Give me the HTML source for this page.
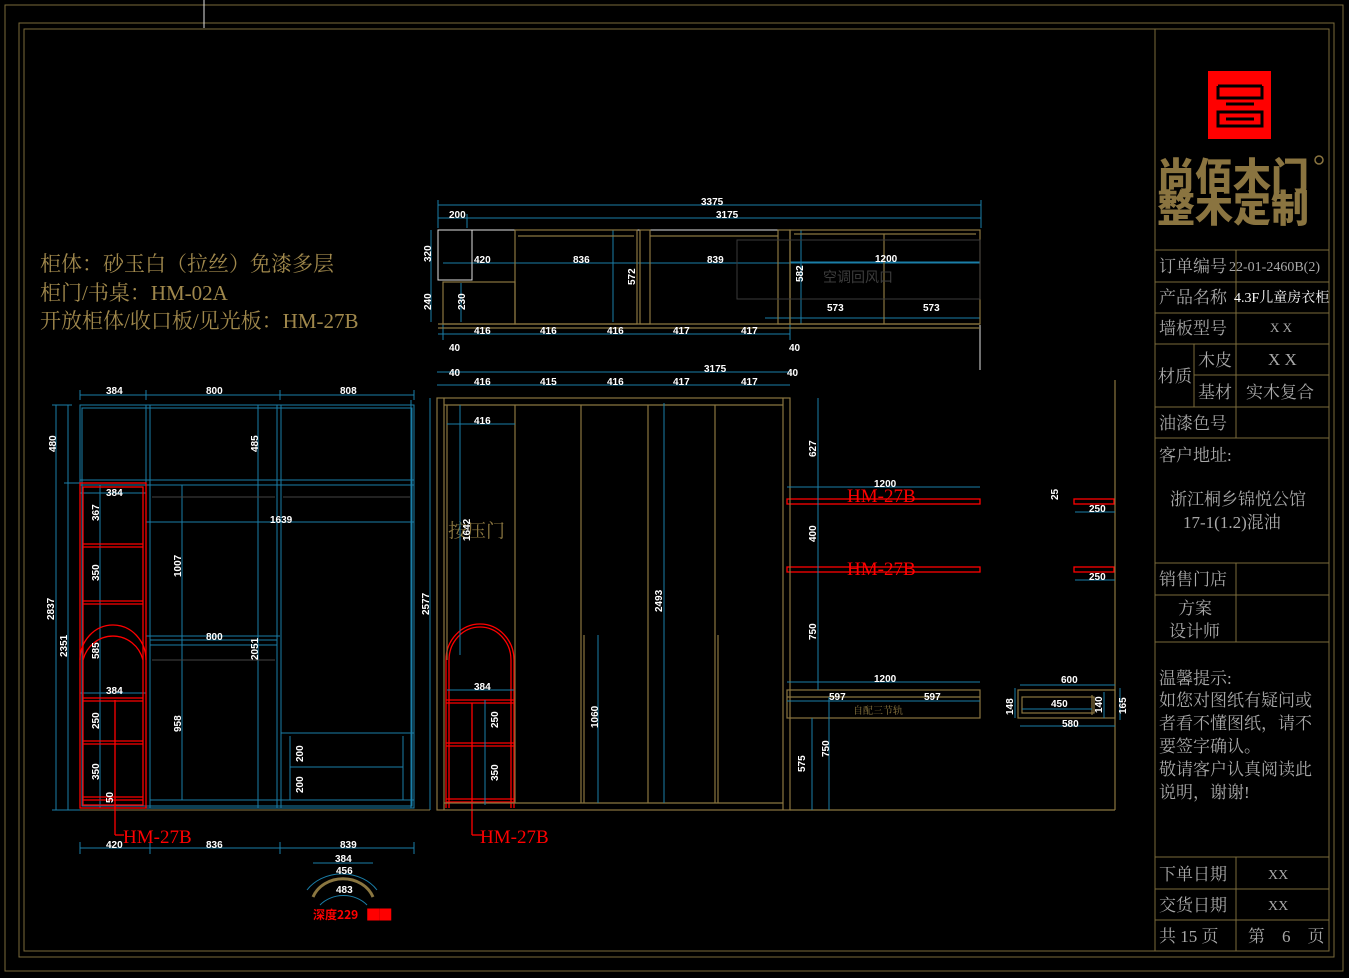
<!DOCTYPE html>
<html><head><meta charset="utf-8"><style>
html,body{margin:0;padding:0;background:#000;}
svg{display:block}
.g{stroke:#8a7640;fill:none;stroke-width:1.2}
.c{stroke:#1a7ea8;fill:none;stroke-width:1}
.r{stroke:#ff0000;fill:none;stroke-width:1.3}
.w{stroke:#e0e0e0;fill:none;stroke-width:1}
.f{stroke:#7a6a3a;fill:none;stroke-width:1}
.d{fill:#fff;font-family:"Liberation Sans Narrow","Liberation Sans",sans-serif;font-size:10px;font-weight:bold}
.t{fill:#a8a8a8;font-family:"Liberation Serif","Noto Serif CJK SC",serif;font-size:17px}
.y{fill:#a0884c;font-family:"Liberation Serif","Noto Serif CJK SC",serif;font-size:21px}
.hm{fill:#ff0000;font-family:"Liberation Serif","Noto Serif CJK SC",serif;font-size:19px}
</style></head><body>
<svg width="1349" height="978" viewBox="0 0 1349 978" xmlns="http://www.w3.org/2000/svg">
<rect width="1349" height="978" fill="#000"/>
<rect x="5" y="5" width="1338" height="966" class="f"/>
<rect x="19" y="23" width="1315" height="934" class="f"/>
<rect x="24" y="29" width="1305" height="922" class="f"/>
<line x1="204" y1="0" x2="204" y2="28" class="w"/>
<g class="f">
<line x1="1155" y1="29" x2="1155" y2="951"/>
<line x1="1155" y1="250" x2="1329" y2="250"/>
<line x1="1155" y1="282" x2="1329" y2="282"/>
<line x1="1155" y1="313" x2="1329" y2="313"/>
<line x1="1194" y1="344" x2="1329" y2="344"/>
<line x1="1155" y1="344" x2="1194" y2="344"/>
<line x1="1194" y1="375" x2="1329" y2="375"/>
<line x1="1155" y1="407" x2="1329" y2="407"/>
<line x1="1155" y1="438" x2="1329" y2="438"/>
<line x1="1155" y1="563" x2="1329" y2="563"/>
<line x1="1155" y1="595" x2="1329" y2="595"/>
<line x1="1155" y1="642" x2="1329" y2="642"/>
<line x1="1155" y1="857" x2="1329" y2="857"/>
<line x1="1155" y1="889" x2="1329" y2="889"/>
<line x1="1155" y1="920" x2="1329" y2="920"/>
<line x1="1236" y1="250" x2="1236" y2="438"/>
<line x1="1194" y1="344" x2="1194" y2="407"/>
<line x1="1236" y1="563" x2="1236" y2="642"/>
<line x1="1236" y1="857" x2="1236" y2="951"/>
</g>
<rect x="1208" y="71" width="63" height="68" fill="#ff0000"/>
<g stroke="#000" stroke-width="3" fill="none">
<path d="M1218 86 H1262 M1218 86 V98 H1262 V86 M1226 104 H1254 M1218 112 H1262 V126 H1218 Z M1226 119 H1254"/>
</g>
<text x="1157" y="190" style="fill:#8a7440;font-family:'Noto Sans CJK SC',sans-serif;font-size:38px;font-weight:900">尚佰木门</text>
<text x="1157" y="222" style="fill:#8a7440;font-family:'Noto Sans CJK SC',sans-serif;font-size:38px;font-weight:900">整木定制</text>
<circle cx="1319" cy="160" r="4" stroke="#8a7440" fill="none" stroke-width="1.5"/>
<g class="t">
<text x="1159" y="272">订单编号</text><text x="1229" y="271" style="font-size:14px">22-01-2460B(2)</text>
<text x="1159" y="303">产品名称</text><text x="1234" y="302" style="font-size:14px;fill:#fff">4.3F儿童房衣柜</text>
<text x="1159" y="334">墙板型号</text><text x="1270" y="332" style="font-size:13px">X X</text>
<text x="1158" y="382">材质</text>
<text x="1198" y="366">木皮</text><text x="1268" y="365">X X</text>
<text x="1198" y="398">基材</text><text x="1246" y="398">实木复合</text>
<text x="1159" y="429">油漆色号</text>
<text x="1159" y="461">客户地址:</text>
<text x="1170" y="505">浙江桐乡锦悦公馆</text>
<text x="1183" y="528">17-1(1.2)混油</text>
<text x="1159" y="585">销售门店</text>
<text x="1178" y="614">方案</text>
<text x="1169" y="637">设计师</text>
<text x="1159" y="684">温馨提示:</text>
<text x="1159" y="706">如您对图纸有疑问或</text>
<text x="1159" y="729">者看不懂图纸，请不</text>
<text x="1159" y="752">要签字确认。</text>
<text x="1159" y="775">敬请客户认真阅读此</text>
<text x="1159" y="798">说明，谢谢!</text>
<text x="1159" y="880">下单日期</text><text x="1268" y="879" style="font-size:14px">XX</text>
<text x="1159" y="911">交货日期</text><text x="1268" y="910" style="font-size:14px">XX</text>
<text x="1159" y="942">共 15 页</text><text x="1248" y="942">第　6　页</text>
</g>
<g class="y">
<text x="40" y="271">柜体：砂玉白（拉丝）免漆多层</text>
<text x="40" y="300">柜门/书桌：HM-02A</text>
<text x="40" y="328">开放柜体/收口板/见光板：HM-27B</text>
</g>
<g class="c">
<line x1="438" y1="205" x2="981" y2="205"/><line x1="438" y1="218" x2="981" y2="218"/>
<line x1="438" y1="200" x2="438" y2="228"/><line x1="981" y1="200" x2="981" y2="228"/><line x1="467" y1="214" x2="467" y2="228"/>
<line x1="443" y1="263" x2="606" y2="263"/><line x1="606" y1="263" x2="980" y2="263"/>
<line x1="431" y1="230" x2="431" y2="322"/>
<line x1="461" y1="283" x2="461" y2="322"/>
<line x1="613" y1="230" x2="613" y2="322"/>
<line x1="790" y1="262" x2="980" y2="262"/>
<line x1="765" y1="318" x2="980" y2="318"/>
<line x1="801" y1="230" x2="801" y2="324"/>
<line x1="438" y1="334" x2="790" y2="334"/>
<line x1="443" y1="324" x2="443" y2="340"/><line x1="790" y1="324" x2="790" y2="340"/>
<line x1="437" y1="372" x2="790" y2="372"/><line x1="437" y1="385" x2="790" y2="385"/>
</g>
<rect x="438" y="230" width="34" height="50" class="w"/>
<line x1="472" y1="230" x2="980" y2="230" class="w"/>
<line x1="980" y1="325" x2="980" y2="370" class="w"/>
<g class="g">
<rect x="443" y="282" width="72" height="42"/>
<line x1="438" y1="324" x2="980" y2="324"/><line x1="438" y1="328" x2="980" y2="328"/>
<rect x="515" y="230" width="122" height="94"/><line x1="518" y1="236" x2="634" y2="236"/>
<rect x="640" y="230" width="10" height="94"/>
<line x1="650" y1="236" x2="778" y2="236"/>
<rect x="778" y="230" width="12" height="94"/>
<rect x="790" y="230" width="190" height="94"/>
<line x1="794" y1="234" x2="976" y2="234"/>
<line x1="884" y1="234" x2="884" y2="324"/>
</g>
<rect x="737" y="240" width="243" height="59" stroke="#3a3a3a" fill="none"/>
<text x="823" y="282" style="fill:#3c3c3c;font-family:'Noto Sans CJK SC',sans-serif;font-size:14px">空调回风口</text>
<g class="d">
<text x="701" y="205">3375</text><text x="449" y="218">200</text><text x="716" y="218">3175</text>
<text x="474" y="263">420</text><text x="573" y="263">836</text><text x="707" y="263">839</text><text x="875" y="262">1200</text>
<text x="827" y="311">573</text><text x="923" y="311">573</text>
<text x="474" y="334">416</text><text x="540" y="334">416</text><text x="607" y="334">416</text><text x="673" y="334">417</text><text x="741" y="334">417</text>
<text x="449" y="351">40</text><text x="789" y="351">40</text>
<text x="704" y="372">3175</text><text x="449" y="376">40</text><text x="787" y="376">40</text>
<text x="474" y="385">416</text><text x="540" y="385">415</text><text x="607" y="385">416</text><text x="673" y="385">417</text><text x="741" y="385">417</text>
<text transform="translate(431,262) rotate(-90)">320</text>
<text transform="translate(431,310) rotate(-90)">240</text>
<text transform="translate(465,310) rotate(-90)">230</text>
<text transform="translate(635,285) rotate(-90)">572</text>
<text transform="translate(803,282) rotate(-90)">582</text>
</g>
<g class="c">
<line x1="80" y1="395" x2="414" y2="395"/>
<line x1="80" y1="390" x2="80" y2="400"/><line x1="146" y1="390" x2="146" y2="400"/><line x1="280" y1="390" x2="280" y2="400"/><line x1="414" y1="390" x2="414" y2="400"/>
<line x1="56" y1="405" x2="56" y2="810"/><line x1="68" y1="405" x2="68" y2="810"/>
<line x1="52" y1="405" x2="72" y2="405"/><line x1="64" y1="483" x2="80" y2="483"/><line x1="52" y1="810" x2="80" y2="810"/>
<rect x="80" y="405" width="334" height="403"/>
<rect x="82" y="408" width="330" height="398"/>
<line x1="80" y1="480" x2="414" y2="480"/><line x1="80" y1="485" x2="414" y2="485"/>
<line x1="146" y1="405" x2="146" y2="808"/><line x1="150" y1="405" x2="150" y2="808"/>
<line x1="277" y1="405" x2="277" y2="808"/><line x1="281" y1="405" x2="281" y2="808"/>
<line x1="411" y1="400" x2="411" y2="808"/>
<line x1="150" y1="640" x2="277" y2="640"/><line x1="150" y1="645" x2="277" y2="645"/>
<line x1="150" y1="800" x2="414" y2="800"/>
<line x1="281" y1="733" x2="414" y2="733"/>
<line x1="290" y1="736" x2="290" y2="800"/><line x1="403" y1="736" x2="403" y2="800"/>
<line x1="290" y1="767" x2="403" y2="767"/>
<line x1="146" y1="522" x2="414" y2="522"/>
<line x1="146" y1="636" x2="280" y2="636"/>
<line x1="182" y1="485" x2="182" y2="800"/>
<line x1="258" y1="405" x2="258" y2="808"/>
<line x1="100" y1="485" x2="100" y2="808"/>
<line x1="80" y1="493" x2="146" y2="493"/><line x1="80" y1="693" x2="146" y2="693"/>
<line x1="430" y1="398" x2="430" y2="810"/>
<line x1="80" y1="848" x2="414" y2="848"/>
<line x1="80" y1="842" x2="80" y2="854"/><line x1="150" y1="842" x2="150" y2="854"/><line x1="280" y1="842" x2="280" y2="854"/><line x1="414" y1="842" x2="414" y2="854"/>
<line x1="313" y1="863" x2="373" y2="863"/>
<path d="M307 890 A42 36 0 0 1 377 890"/><path d="M320 905 A30 25 0 0 1 367 905"/>
</g>
<line x1="80" y1="810" x2="430" y2="810" stroke="#8a7640"/>
<path d="M313 897 A32 28 0 0 1 373 897" stroke="#8a7640" stroke-width="3" fill="none"/>
<g stroke="#444" fill="none">
<line x1="152" y1="497" x2="275" y2="497"/><line x1="283" y1="497" x2="410" y2="497"/>
<line x1="152" y1="660" x2="275" y2="660"/>
</g>
<g class="r">
<rect x="80" y="483" width="66" height="325"/>
<rect x="83" y="487" width="60" height="318"/>
<line x1="83" y1="544" x2="143" y2="544"/><line x1="83" y1="547" x2="143" y2="547"/>
<line x1="83" y1="601" x2="143" y2="601"/><line x1="83" y1="604" x2="143" y2="604"/>
<path d="M83 660 A31 32 0 0 1 143 660"/><path d="M80 660 A33 35 0 0 1 146 660"/>
<line x1="83" y1="698" x2="143" y2="698"/><line x1="83" y1="701" x2="143" y2="701"/>
<line x1="83" y1="741" x2="143" y2="741"/><line x1="83" y1="744" x2="143" y2="744"/>
<line x1="83" y1="797" x2="143" y2="797"/><line x1="83" y1="800" x2="143" y2="800"/>
<line x1="115" y1="700" x2="115" y2="835"/><line x1="115" y1="835" x2="124" y2="835"/>
<path d="M446 808 V660 A34 36 0 0 1 514 660 V808"/><path d="M449 808 V660 A31 33 0 0 1 511 660 V808"/>
<line x1="446" y1="700" x2="514" y2="700"/><line x1="446" y1="703" x2="514" y2="703"/>
<line x1="446" y1="743" x2="514" y2="743"/><line x1="446" y1="746" x2="514" y2="746"/>
<line x1="446" y1="799" x2="514" y2="799"/><line x1="446" y1="802" x2="514" y2="802"/>
<line x1="472" y1="703" x2="472" y2="835"/><line x1="472" y1="835" x2="482" y2="835"/>
<rect x="787" y="499" width="193" height="5"/><rect x="787" y="567" width="193" height="5"/>
<rect x="1074" y="499" width="40" height="5"/><rect x="1074" y="567" width="40" height="5"/>
</g>
<text x="123" y="843" class="hm">HM-27B</text>
<text x="480" y="843" class="hm">HM-27B</text>
<text x="847" y="502" class="hm">HM-27B</text>
<text x="847" y="575" class="hm">HM-27B</text>
<text x="313" y="919" style="fill:#ff0000;font-family:'Noto Sans CJK SC',sans-serif;font-size:12px;font-weight:bold">深度229<tspan dx="9">██</tspan></text>
<g class="d">
<text x="106" y="394">384</text><text x="206" y="394">800</text><text x="340" y="394">808</text>
<text x="106" y="496">384</text><text x="270" y="523">1639</text><text x="206" y="640">800</text><text x="106" y="694">384</text>
<text x="106" y="848">420</text><text x="206" y="848">836</text><text x="340" y="848">839</text>
<text x="335" y="862">384</text><text x="336" y="874">456</text><text x="336" y="893">483</text>
<text transform="translate(56,452) rotate(-90)">480</text>
<text transform="translate(54,620) rotate(-90)">2837</text>
<text transform="translate(67,657) rotate(-90)">2351</text>
<text transform="translate(258,452) rotate(-90)">485</text>
<text transform="translate(99,521) rotate(-90)">367</text>
<text transform="translate(99,581) rotate(-90)">350</text>
<text transform="translate(99,659) rotate(-90)">585</text>
<text transform="translate(99,729) rotate(-90)">250</text>
<text transform="translate(99,780) rotate(-90)">350</text>
<text transform="translate(113,803) rotate(-90)">50</text>
<text transform="translate(181,577) rotate(-90)">1007</text>
<text transform="translate(181,732) rotate(-90)">958</text>
<text transform="translate(258,660) rotate(-90)">2051</text>
<text transform="translate(303,762) rotate(-90)">200</text>
<text transform="translate(303,793) rotate(-90)">200</text>
<text transform="translate(429,615) rotate(-90)">2577</text>
</g>
<g class="g">
<rect x="437" y="398" width="353" height="412"/>
<line x1="444" y1="398" x2="444" y2="810"/><line x1="783" y1="398" x2="783" y2="810"/>
<line x1="444" y1="405" x2="783" y2="405"/><line x1="444" y1="803" x2="783" y2="803"/>
<line x1="447" y1="405" x2="447" y2="660"/><line x1="515" y1="405" x2="515" y2="803"/>
<line x1="581" y1="405" x2="581" y2="803"/><line x1="584" y1="635" x2="584" y2="803"/>
<line x1="648" y1="405" x2="648" y2="803"/>
<line x1="715" y1="405" x2="715" y2="803"/><line x1="718" y1="635" x2="718" y2="803"/>
<line x1="790" y1="810" x2="1115" y2="810"/>
<line x1="1115" y1="380" x2="1115" y2="810"/>
<rect x="787" y="690" width="193" height="28"/>
<line x1="787" y1="697" x2="980" y2="697"/>
<rect x="1018" y="690" width="97" height="28"/>
<rect x="1022" y="697" width="72" height="16"/>
<line x1="1092" y1="695" x2="1092" y2="715"/>
</g>
<text x="448" y="537" style="fill:#8a7640;font-family:'Noto Serif CJK SC',serif;font-size:19px">按压门</text>
<text x="853" y="714" style="fill:#8a7640;font-family:'Noto Serif CJK SC',serif;font-size:10px">自配三节轨</text>
<g class="c">
<line x1="460" y1="405" x2="460" y2="655"/><line x1="447" y1="424" x2="515" y2="424"/>
<line x1="447" y1="690" x2="514" y2="690"/>
<line x1="485" y1="700" x2="485" y2="805"/>
<line x1="598" y1="635" x2="598" y2="803"/>
<line x1="664" y1="403" x2="664" y2="803"/>
<line x1="818" y1="398" x2="818" y2="690"/>
<line x1="787" y1="487" x2="980" y2="487"/>
<line x1="787" y1="682" x2="980" y2="682"/>
<line x1="787" y1="701" x2="980" y2="701"/>
<line x1="812" y1="718" x2="812" y2="810"/><line x1="829" y1="697" x2="829" y2="810"/>
<line x1="1075" y1="512" x2="1115" y2="512"/><line x1="1075" y1="580" x2="1115" y2="580"/>
<line x1="1020" y1="685" x2="1115" y2="685"/><line x1="1020" y1="726" x2="1115" y2="726"/>
<line x1="1022" y1="709" x2="1092" y2="709"/>
<line x1="1015" y1="688" x2="1015" y2="718"/><line x1="1104" y1="692" x2="1104" y2="718"/><line x1="1120" y1="688" x2="1120" y2="720"/>
</g>
<g class="d">
<text x="474" y="424">416</text><text x="474" y="690">384</text>
<text x="874" y="487">1200</text><text x="874" y="682">1200</text>
<text x="829" y="700">597</text><text x="924" y="700">597</text>
<text x="1089" y="512">250</text><text x="1089" y="580">250</text>
<text x="1061" y="683">600</text><text x="1051" y="707">450</text><text x="1062" y="727">580</text>
<text transform="translate(470,541) rotate(-90)">1642</text>
<text transform="translate(498,728) rotate(-90)">250</text>
<text transform="translate(498,781) rotate(-90)">350</text>
<text transform="translate(598,728) rotate(-90)">1060</text>
<text transform="translate(662,612) rotate(-90)">2493</text>
<text transform="translate(816,457) rotate(-90)">627</text>
<text transform="translate(816,542) rotate(-90)">400</text>
<text transform="translate(816,640) rotate(-90)">750</text>
<text transform="translate(805,772) rotate(-90)">575</text>
<text transform="translate(829,757) rotate(-90)">750</text>
<text transform="translate(1058,500) rotate(-90)">25</text>
<text transform="translate(1013,715) rotate(-90)">148</text>
<text transform="translate(1102,713) rotate(-90)">140</text>
<text transform="translate(1126,714) rotate(-90)">165</text>
</g>
</svg>
</body></html>
